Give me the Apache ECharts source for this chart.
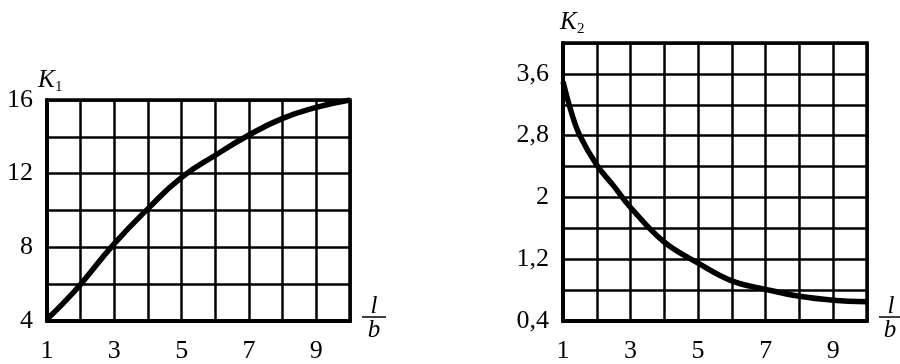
<!DOCTYPE html>
<html>
<head>
<meta charset="utf-8">
<script src="https://cdn.jsdelivr.net/npm/echarts@6/dist/echarts.min.js"></script>
<style>
    html, body { margin: 0; padding: 0; background: #fff; }
    #main { width: 900px; height: 364px; }
</style>
</head>
<body>
<div id="main"></div>
<script type="text/javascript">
    // 左图：K1 - l/b
    var lbValues1 = [1, 1.5, 2, 3, 4, 5, 6, 7, 8, 9, 10];
    var k1Values = [4.1, 5.0, 6.0, 8.2, 10.1, 11.8, 13.0, 14.1, 15.0, 15.6, 16.0];
    // 右图：K2 - l/b
    var lbValues2 = [1, 1.25, 1.5, 2, 2.5, 3, 4, 5, 6, 7, 8, 9, 10];
    var k2Values = [3.5, 3.1, 2.8, 2.42, 2.15, 1.87, 1.42, 1.15, 0.92, 0.81, 0.72, 0.67, 0.65];
    // 刻度标签
    var xTickLabels = [1, 3, 5, 7, 9];
    var k1TickLabels = [4, 8, 12, 16];
    var k2TickLabels = [0.4, 1.2, 2.0, 2.8, 3.6];

    var FONT = "Liberation Serif";

    function pairs(xs, ys) {
        var out = [];
        for (var i = 0; i < xs.length; i++) {
            out.push([xs[i], ys[i]]);
        }
        return out;
    }

    function inList(v, list) {
        for (var i = 0; i < list.length; i++) {
            if (Math.abs(v - list[i]) < 1e-6) return true;
        }
        return false;
    }

    function commaNum(v) {
        var r = Math.round(v * 10) / 10;
        return String(r).replace('.', ',');
    }

    function xAxisCfg(idx) {
        return {
            type: 'value', gridIndex: idx, min: 1, max: 10, interval: 1,
            axisLine: { show: true, lineStyle: { color: '#000', width: 4 } },
            axisTick: { show: false },
            splitLine: { show: true, lineStyle: { color: '#000', width: 2.5 } },
            axisLabel: {
                margin: 17, color: '#000', fontSize: 26, fontFamily: FONT,
                formatter: function (v) { return inList(v, xTickLabels) ? String(v) : ''; }
            }
        };
    }

    var myChart = echarts.init(document.getElementById('main'));

    var option = {
        backgroundColor: '#fff',
        animation: false,
        grid: [
            { left: 47, top: 100, width: 303, height: 228, show: true, borderColor: '#000', borderWidth: 3.5 },
            { left: 563, top: 43, width: 304, height: 285, show: true, borderColor: '#000', borderWidth: 3.5 }
        ],
        xAxis: [xAxisCfg(0), xAxisCfg(1)],
        yAxis: [
            {
                type: 'value', gridIndex: 0, min: 4, max: 16, interval: 2,
                axisLine: { show: true, lineStyle: { color: '#000', width: 4 } },
                axisTick: { show: false },
                splitLine: { show: true, lineStyle: { color: '#000', width: 2.5 } },
                axisLabel: {
                    margin: 14, color: '#000', fontSize: 26, fontFamily: FONT,
                    formatter: function (v) { return inList(v, k1TickLabels) ? String(v) : ''; }
                }
            },
            {
                type: 'value', gridIndex: 1, min: 0.4, max: 4.0, interval: 0.4,
                axisLine: { show: true, lineStyle: { color: '#000', width: 4 } },
                axisTick: { show: false },
                splitLine: { show: true, lineStyle: { color: '#000', width: 2.5 } },
                axisLabel: {
                    margin: 14, color: '#000', fontSize: 26, fontFamily: FONT,
                    formatter: function (v) { return inList(v, k2TickLabels) ? commaNum(v) : ''; }
                }
            }
        ],
        series: [
            {
                type: 'line', xAxisIndex: 0, yAxisIndex: 0, smooth: 0.5,
                symbol: 'none', clip: true,
                lineStyle: { color: '#000', width: 5.5 },
                data: pairs(lbValues1, k1Values)
            },
            {
                type: 'line', xAxisIndex: 1, yAxisIndex: 1, smooth: 0.4,
                symbol: 'none', clip: true,
                lineStyle: { color: '#000', width: 5.5 },
                data: pairs(lbValues2, k2Values)
            }
        ],
        graphic: [
            // 左图 y 轴名称 K1
            { type: 'text', x: 38, y: 68, style: { text: 'K', fontSize: 25, fontStyle: 'italic', fontFamily: FONT, fill: '#000' } },
            { type: 'text', x: 55, y: 80, style: { text: '1', fontSize: 15, fontFamily: FONT, fill: '#000' } },
            // 左图 x 轴名称 l/b
            { type: 'text', x: 374, y: 294, style: { text: 'l', fontSize: 25, fontStyle: 'italic', fontFamily: FONT, fill: '#000', align: 'center' } },
            { type: 'line', shape: { x1: 362, y1: 317, x2: 386, y2: 317 }, style: { stroke: '#000', lineWidth: 1.5 } },
            { type: 'text', x: 374, y: 318, style: { text: 'b', fontSize: 25, fontStyle: 'italic', fontFamily: FONT, fill: '#000', align: 'center' } },
            // 右图 y 轴名称 K2
            { type: 'text', x: 560, y: 10, style: { text: 'K', fontSize: 25, fontStyle: 'italic', fontFamily: FONT, fill: '#000' } },
            { type: 'text', x: 577, y: 22, style: { text: '2', fontSize: 15, fontFamily: FONT, fill: '#000' } },
            // 右图 x 轴名称 l/b
            { type: 'text', x: 891, y: 294, style: { text: 'l', fontSize: 25, fontStyle: 'italic', fontFamily: FONT, fill: '#000', align: 'center' } },
            { type: 'line', shape: { x1: 879, y1: 317, x2: 901, y2: 317 }, style: { stroke: '#000', lineWidth: 1.5 } },
            { type: 'text', x: 890, y: 318, style: { text: 'b', fontSize: 25, fontStyle: 'italic', fontFamily: FONT, fill: '#000', align: 'center' } }
        ]
    };

    myChart.setOption(option);
</script>
</body>
</html>
